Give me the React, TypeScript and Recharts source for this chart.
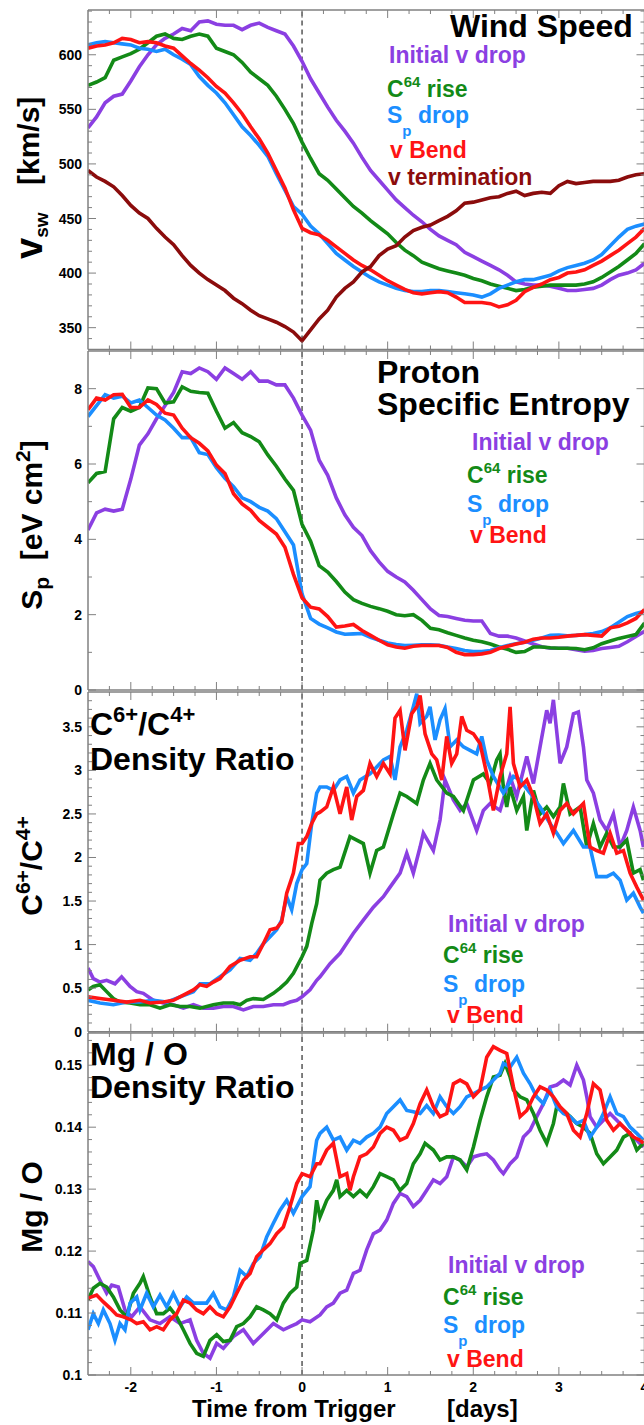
import { LineChart, Line, XAxis, YAxis, ReferenceLine } from "recharts";

// time from trigger (days) for the wind speed and entropy panels
const days = [
  -2.5, -2.4, -2.3, -2.2, -2.1, -2, -1.9, -1.8, -1.7, -1.6, -1.5, -1.4, -1.3, -1.2, -1.1, -1, -0.9, -0.8, -0.7, -0.6,
  -0.5, -0.4, -0.3, -0.2, -0.1, 0, 0.1, 0.2, 0.3, 0.4, 0.5, 0.6, 0.7, 0.8, 0.9, 1, 1.1, 1.2, 1.3, 1.4, 1.5, 1.6, 1.7,
  1.8, 1.9, 2, 2.1, 2.2, 2.3, 2.4, 2.5, 2.6, 2.7, 2.8, 2.9, 3, 3.1, 3.2, 3.3, 3.4, 3.5, 3.6, 3.7, 3.8, 3.9, 4,
];

// wind speed, km/s
const speedInitial = [
  533, 543, 556, 562, 564, 576, 589, 600, 609, 615, 619, 624, 622, 630, 631, 628, 627, 627, 623, 627, 629, 625, 622, 619, 608, 594, 578, 565,
  552, 540, 530, 519, 506, 494, 485, 476, 467, 460, 453, 447, 440, 434, 430, 426, 419, 415, 411, 407, 403, 398, 392, 390, 389, 389, 388, 386,
  384, 384, 385, 386, 389, 394, 398, 400, 403, 409,
];
const speedC64 = [
  572, 575, 579, 595, 598, 601, 605, 611, 617, 619, 615, 614, 617, 619, 617, 606, 603, 600, 593, 584, 578, 572, 562, 550, 537, 520, 505, 491,
  485, 477, 469, 461, 455, 448, 442, 436, 428, 421, 416, 410, 407, 404, 402, 400, 398, 395, 393, 390, 388, 386, 384, 385, 387, 388, 389, 389,
  389, 389, 390, 392, 396, 401, 406, 412, 418, 427,
];
const speedSp = [
  609, 611, 612, 611, 610, 609, 606, 605, 603, 605, 600, 596, 591, 580, 572, 565, 556, 545, 534, 526, 517, 507, 491, 476, 461, 454, 443, 436,
  427, 418, 412, 406, 401, 396, 392, 389, 386, 384, 383, 383, 384, 384, 383, 382, 381, 380, 378, 381, 386, 389, 392, 394, 394, 396, 398, 402,
  405, 407, 409, 412, 417, 425, 433, 440, 443, 445,
];
const speedBend = [
  606, 608, 609, 611, 615, 614, 611, 612, 611, 608, 606, 599, 592, 586, 579, 571, 565, 556, 546, 534, 523, 510, 494, 478, 458, 441, 437, 435,
  430, 424, 418, 412, 407, 403, 398, 393, 389, 385, 382, 381, 382, 383, 382, 378, 373, 373, 373, 372, 369, 371, 375, 383, 387, 390, 394, 396,
  400, 401, 403, 407, 411, 416, 421, 427, 433, 441,
];
const speedTerm = [
  494, 488, 484, 479, 471, 462, 455, 450, 441, 433, 426, 416, 407, 400, 394, 389, 384, 377, 372, 366, 361, 358, 355, 351, 346, 338, 348, 358,
  366, 378, 386, 392, 401, 406, 416, 422, 425, 433, 439, 442, 444, 448, 452, 457, 464, 465, 467, 469, 470, 473, 475, 471, 473, 474, 473, 480,
  484, 482, 483, 484, 484, 484, 485, 488, 490, 491,
];

// proton specific entropy, eV cm^2
const entropyInitial = [
  4.25, 4.7, 4.8, 4.75, 4.8, 5.6, 6.5, 6.8, 7.2, 7.55, 7.9, 8.45, 8.4, 8.55, 8.45, 8.25, 8.55, 8.4, 8.25, 8.45, 8.2, 8.2, 8.1, 8.1, 7.75, 7.3,
  6.9, 6.1, 5.7, 5.1, 4.65, 4.32, 4.1, 3.7, 3.4, 3.15, 3.0, 2.87, 2.65, 2.4, 2.15, 1.98, 1.95, 1.9, 1.85, 1.83, 1.83, 1.5, 1.43, 1.43, 1.38,
  1.3, 1.22, 1.15, 1.11, 1.11, 1.11, 1.07, 1.03, 1.05, 1.1, 1.13, 1.16, 1.28, 1.42, 1.56,
];
const entropyC64 = [
  5.5, 5.75, 5.8, 7.2, 7.5, 7.4, 7.5, 8.02, 8.0, 7.62, 7.65, 8.05, 7.93, 7.9, 7.88, 7.4, 6.95, 7.1, 6.83, 6.73, 6.59, 6.24, 5.94, 5.6, 5.3,
  4.4, 3.95, 3.3, 3.13, 2.88, 2.6, 2.4, 2.3, 2.22, 2.16, 2.09, 2.0, 1.97, 2.0, 1.85, 1.64, 1.6, 1.52, 1.45, 1.38, 1.32, 1.28, 1.22, 1.14, 1.08,
  1.0, 1.02, 1.14, 1.14, 1.12, 1.11, 1.11, 1.1, 1.07, 1.12, 1.23, 1.3, 1.37, 1.42, 1.47, 1.78,
];
const entropySp = [
  7.26, 7.55, 7.84, 7.75, 7.8, 7.62, 7.7, 7.5, 7.3, 7.17, 6.95, 6.7, 6.7, 6.3, 6.25, 5.9, 5.62, 5.4, 5.1, 5.0, 4.85, 4.75, 4.55, 4.2, 3.85,
  2.55, 1.9, 1.75, 1.65, 1.54, 1.48, 1.49, 1.5, 1.4, 1.32, 1.25, 1.21, 1.18, 1.19, 1.2, 1.2, 1.19, 1.14, 1.1, 1.05, 1.02, 1.02, 1.05, 1.12,
  1.18, 1.23, 1.27, 1.32, 1.38, 1.45, 1.46, 1.44, 1.45, 1.47, 1.5, 1.55, 1.65, 1.8, 1.95, 2.03, 2.09,
];
const entropyBend = [
  7.44, 7.75, 7.7, 7.84, 7.85, 7.5, 7.5, 7.7, 7.58, 7.35, 7.3, 6.95, 6.7, 6.55, 6.35, 5.97, 5.75, 5.21, 4.94, 4.77, 4.5, 4.32, 4.14, 3.79,
  3.07, 2.45, 2.2, 2.15, 1.95, 1.67, 1.7, 1.74, 1.58, 1.45, 1.32, 1.2, 1.14, 1.11, 1.16, 1.18, 1.18, 1.18, 1.13, 1.0, 0.94, 0.94, 0.96, 1.0,
  1.1, 1.16, 1.22, 1.27, 1.35, 1.38, 1.38, 1.4, 1.43, 1.45, 1.47, 1.45, 1.43, 1.65, 1.69, 1.78, 1.9, 2.14,
];

// C6+/C4+ density ratio, [day, ratio]
const carbonInitial: [number, number][] = [
  [-2.5, 0.73], [-2.438, 0.61], [-2.36, 0.57], [-2.282, 0.59], [-2.185, 0.55], [-2.107, 0.63], [-2.009, 0.52], [-1.931, 0.46],
  [-1.854, 0.44], [-1.737, 0.36], [-1.62, 0.33], [-1.503, 0.31], [-1.386, 0.27], [-1.269, 0.31], [-1.153, 0.27], [-1.036, 0.27],
  [-0.919, 0.29], [-0.802, 0.29], [-0.685, 0.25], [-0.569, 0.29], [-0.452, 0.29], [-0.335, 0.31], [-0.218, 0.31], [-0.14, 0.34],
  [-0.062, 0.36], [0, 0.4], [0.093, 0.48], [0.171, 0.59], [0.21, 0.63], [0.327, 0.78], [0.444, 0.9], [0.6, 1.13], [0.716, 1.28],
  [0.833, 1.43], [0.95, 1.55], [1.028, 1.66], [1.145, 1.82], [1.223, 2.05], [1.3, 1.82], [1.379, 2.12], [1.417, 2.28], [1.534, 2.08],
  [1.612, 2.43], [1.67, 2.89], [1.768, 2.66], [1.846, 2.54], [1.924, 2.62], [2.04, 2.31], [2.118, 2.54], [2.196, 2.62], [2.313, 2.54],
  [2.43, 2.93], [2.508, 2.7], [2.625, 3.16], [2.703, 2.85], [2.78, 3.27], [2.858, 3.69], [2.897, 3.54], [2.936, 3.81], [3.014, 3.08],
  [3.092, 3.27], [3.17, 3.65], [3.228, 3.67], [3.287, 3.27], [3.326, 2.89], [3.403, 2.74], [3.481, 2.43], [3.559, 2.31], [3.637, 2.5],
  [3.715, 2.12], [3.793, 2.31], [3.87, 2.58], [3.949, 2.31], [3.988, 2.12],
];
const carbonC64: [number, number][] = [
  [-2.5, 0.48], [-2.438, 0.52], [-2.36, 0.54], [-2.282, 0.46], [-2.204, 0.38], [-2.126, 0.34], [-2.009, 0.33], [-1.893, 0.31],
  [-1.776, 0.31], [-1.659, 0.27], [-1.542, 0.31], [-1.425, 0.29], [-1.308, 0.29], [-1.192, 0.27], [-1.036, 0.31], [-0.919, 0.33],
  [-0.802, 0.33], [-0.724, 0.31], [-0.646, 0.36], [-0.569, 0.38], [-0.452, 0.37], [-0.335, 0.44], [-0.257, 0.5], [-0.179, 0.57],
  [-0.101, 0.67], [0, 0.86], [0.055, 0.98], [0.113, 1.24], [0.171, 1.47], [0.21, 1.74], [0.288, 1.82], [0.366, 1.86], [0.444, 1.89],
  [0.56, 2.24], [0.639, 2.2], [0.716, 2.16], [0.794, 1.82], [0.872, 2.08], [0.95, 2.12], [1.067, 2.5], [1.145, 2.74], [1.223, 2.7],
  [1.34, 2.62], [1.417, 2.89], [1.495, 3.08], [1.573, 2.89], [1.69, 2.74], [1.768, 2.7], [1.885, 2.54], [2.002, 2.89], [2.118, 2.96],
  [2.196, 2.85], [2.274, 3.12], [2.313, 3.19], [2.352, 2.81], [2.391, 2.58], [2.43, 2.81], [2.508, 2.54], [2.586, 2.7], [2.625, 2.31],
  [2.703, 2.77], [2.78, 2.5], [2.858, 2.58], [2.936, 2.47], [3.014, 2.58], [3.053, 2.85], [3.131, 2.5], [3.248, 2.58], [3.326, 2.12],
  [3.403, 2.39], [3.481, 2.12], [3.559, 2.28], [3.637, 2.12], [3.715, 2.12], [3.793, 2.2], [3.87, 1.82], [3.949, 1.86], [3.988, 1.74],
];
const carbonSp: [number, number][] = [
  [-2.5, 0.36], [-2.36, 0.33], [-2.204, 0.31], [-2.048, 0.34], [-1.893, 0.34], [-1.737, 0.36], [-1.581, 0.34], [-1.425, 0.4],
  [-1.269, 0.46], [-1.192, 0.55], [-1.075, 0.55], [-0.958, 0.63], [-0.841, 0.71], [-0.724, 0.84], [-0.607, 0.82], [-0.53, 0.9],
  [-0.452, 1.01], [-0.374, 1.09], [-0.296, 1.17], [-0.238, 1.28], [-0.179, 1.55], [-0.121, 1.4], [-0.062, 1.7], [0, 1.86],
  [0.055, 1.93], [0.113, 2.39], [0.171, 2.74], [0.21, 2.81], [0.288, 2.81], [0.366, 2.77], [0.444, 2.89], [0.522, 2.93], [0.6, 2.74],
  [0.677, 2.89], [0.794, 2.96], [0.872, 3.04], [0.95, 3.12], [1.028, 3.16], [1.086, 2.89], [1.145, 3.27], [1.223, 3.46], [1.3, 3.73],
  [1.34, 3.88], [1.379, 3.54], [1.456, 3.62], [1.495, 3.73], [1.554, 3.35], [1.612, 3.58], [1.67, 3.71], [1.729, 3.27], [1.807, 3.35],
  [1.885, 3.27], [1.963, 3.23], [2.04, 3.19], [2.099, 3.39], [2.157, 3.12], [2.235, 2.93], [2.352, 2.74], [2.469, 2.93], [2.547, 2.89],
  [2.664, 2.74], [2.78, 2.58], [2.897, 2.39], [2.975, 2.28], [3.053, 2.16], [3.17, 2.31], [3.287, 2.12], [3.364, 2.12], [3.442, 1.78],
  [3.559, 1.78], [3.637, 1.82], [3.715, 1.74], [3.793, 1.51], [3.87, 1.59], [3.949, 1.43], [3.988, 1.36],
];
const carbonBend: [number, number][] = [
  [-2.5, 0.4], [-2.36, 0.38], [-2.204, 0.36], [-2.048, 0.34], [-1.893, 0.36], [-1.776, 0.33], [-1.62, 0.34], [-1.503, 0.36],
  [-1.386, 0.42], [-1.269, 0.48], [-1.192, 0.54], [-1.114, 0.52], [-1.036, 0.57], [-0.958, 0.61], [-0.841, 0.75], [-0.724, 0.82],
  [-0.607, 0.86], [-0.53, 0.86], [-0.452, 1.01], [-0.374, 1.17], [-0.296, 1.19], [-0.238, 1.26], [-0.179, 1.59], [-0.101, 1.82],
  [-0.043, 2.16], [0, 2.16], [0.055, 2.24], [0.113, 2.39], [0.171, 2.5], [0.21, 2.52], [0.288, 2.58], [0.366, 2.81], [0.444, 2.5],
  [0.522, 2.81], [0.58, 2.43], [0.639, 2.7], [0.716, 2.77], [0.794, 3.08], [0.872, 2.93], [0.95, 3.08], [1.028, 2.96], [1.086, 3.6],
  [1.145, 3.69], [1.203, 3.23], [1.281, 3.65], [1.34, 3.73], [1.379, 3.86], [1.437, 3.42], [1.515, 3.19], [1.573, 3.12], [1.632, 2.89],
  [1.69, 3.39], [1.748, 3.08], [1.807, 3.19], [1.865, 3.62], [1.924, 3.46], [2.002, 3.42], [2.079, 3.31], [2.157, 2.96], [2.235, 2.54],
  [2.313, 2.93], [2.391, 3.19], [2.43, 3.73], [2.469, 3.08], [2.547, 2.81], [2.625, 2.89], [2.703, 2.7], [2.78, 2.39], [2.858, 2.5],
  [2.936, 2.28], [3.014, 2.54], [3.092, 2.62], [3.17, 2.5], [3.287, 2.62], [3.364, 2.12], [3.442, 2.08], [3.52, 2.05], [3.598, 2.28],
  [3.676, 2.05], [3.754, 2.08], [3.832, 1.82], [3.91, 1.66], [3.988, 1.51],
];

// Mg/O density ratio, [day, ratio]
const mgInitial: [number, number][] = [
  [-2.5, 0.1183], [-2.438, 0.1175], [-2.36, 0.1153], [-2.282, 0.1132], [-2.223, 0.1145], [-2.146, 0.1142], [-2.068, 0.1105],
  [-1.99, 0.1094], [-1.893, 0.111], [-1.776, 0.1089], [-1.659, 0.1083], [-1.542, 0.1094], [-1.425, 0.1083], [-1.308, 0.1089],
  [-1.231, 0.1056], [-1.153, 0.1035], [-1.075, 0.1027], [-0.997, 0.1051], [-0.919, 0.1043], [-0.802, 0.1062], [-0.685, 0.1073],
  [-0.569, 0.1051], [-0.452, 0.1067], [-0.335, 0.1083], [-0.218, 0.1073], [-0.14, 0.1078], [-0.062, 0.1083], [0, 0.1089],
  [0.093, 0.1086], [0.21, 0.1097], [0.288, 0.111], [0.366, 0.1116], [0.444, 0.1132], [0.522, 0.1137], [0.6, 0.1164], [0.677, 0.1169],
  [0.755, 0.1202], [0.833, 0.1228], [0.911, 0.1234], [0.989, 0.125], [1.067, 0.1277], [1.145, 0.1293], [1.223, 0.1288], [1.3, 0.1272],
  [1.379, 0.1282], [1.456, 0.1298], [1.534, 0.1315], [1.612, 0.1309], [1.69, 0.132], [1.768, 0.1352], [1.846, 0.1347], [1.924, 0.1336],
  [2.002, 0.1352], [2.079, 0.1355], [2.157, 0.1357], [2.235, 0.1347], [2.313, 0.1331], [2.352, 0.1325], [2.43, 0.1341], [2.508, 0.1352],
  [2.586, 0.1384], [2.664, 0.1395], [2.741, 0.1417], [2.819, 0.1438], [2.897, 0.1465], [2.975, 0.1468], [3.053, 0.1476], [3.131, 0.1468],
  [3.209, 0.15], [3.287, 0.1476], [3.326, 0.1449], [3.364, 0.1417], [3.442, 0.14], [3.52, 0.1411], [3.598, 0.1422], [3.676, 0.1411],
  [3.754, 0.14], [3.832, 0.139], [3.91, 0.1379], [3.988, 0.1368],
];
const mgC64: [number, number][] = [
  [-2.5, 0.1121], [-2.438, 0.114], [-2.36, 0.1148], [-2.282, 0.1142], [-2.204, 0.1126], [-2.126, 0.1105], [-2.048, 0.1094],
  [-1.97, 0.1132], [-1.893, 0.1148], [-1.854, 0.1159], [-1.776, 0.1126], [-1.698, 0.1099], [-1.62, 0.1099], [-1.542, 0.1108],
  [-1.464, 0.1094], [-1.386, 0.1073], [-1.308, 0.1051], [-1.231, 0.1035], [-1.153, 0.103], [-1.075, 0.1056], [-0.997, 0.1065],
  [-0.919, 0.1054], [-0.841, 0.1056], [-0.763, 0.1078], [-0.685, 0.1083], [-0.607, 0.1094], [-0.53, 0.111], [-0.452, 0.1105],
  [-0.374, 0.1099], [-0.296, 0.1089], [-0.218, 0.1116], [-0.14, 0.1132], [-0.062, 0.1142], [-0.023, 0.118], [0.055, 0.1185],
  [0.132, 0.1234], [0.171, 0.1282], [0.21, 0.1255], [0.288, 0.1282], [0.366, 0.1298], [0.405, 0.1315], [0.444, 0.1288], [0.522, 0.1298],
  [0.6, 0.1288], [0.677, 0.1298], [0.755, 0.1288], [0.833, 0.1304], [0.911, 0.1325], [0.989, 0.132], [1.067, 0.1315], [1.145, 0.1298],
  [1.223, 0.1309], [1.3, 0.1341], [1.379, 0.1357], [1.437, 0.1374], [1.534, 0.1363], [1.612, 0.1347], [1.69, 0.1352], [1.768, 0.1352],
  [1.846, 0.1347], [1.924, 0.1331], [2.002, 0.1368], [2.079, 0.1411], [2.157, 0.1449], [2.235, 0.1481], [2.313, 0.1484], [2.371, 0.1503],
  [2.43, 0.1481], [2.469, 0.146], [2.547, 0.1449], [2.625, 0.1444], [2.703, 0.1422], [2.78, 0.1395], [2.858, 0.1374], [2.936, 0.1406],
  [2.975, 0.1433], [3.053, 0.1427], [3.131, 0.1417], [3.209, 0.1406], [3.287, 0.14], [3.364, 0.139], [3.442, 0.1357], [3.52, 0.1341],
  [3.598, 0.1352], [3.676, 0.1363], [3.754, 0.1384], [3.832, 0.139], [3.91, 0.1363], [3.988, 0.1374],
];
const mgSp: [number, number][] = [
  [-2.5, 0.1073], [-2.438, 0.1099], [-2.379, 0.1083], [-2.321, 0.1105], [-2.243, 0.1083], [-2.185, 0.1056], [-2.126, 0.1083],
  [-2.068, 0.1073], [-2.009, 0.1116], [-1.931, 0.1126], [-1.893, 0.1105], [-1.815, 0.1132], [-1.737, 0.111], [-1.659, 0.1129],
  [-1.581, 0.111], [-1.503, 0.1132], [-1.425, 0.111], [-1.347, 0.1126], [-1.269, 0.1116], [-1.192, 0.1116], [-1.114, 0.1116],
  [-1.036, 0.1132], [-0.958, 0.111], [-0.88, 0.1105], [-0.802, 0.1126], [-0.724, 0.1169], [-0.646, 0.1159], [-0.569, 0.118],
  [-0.491, 0.1191], [-0.413, 0.1223], [-0.335, 0.1245], [-0.257, 0.1266], [-0.179, 0.1282], [-0.101, 0.1261], [0, 0.1288],
  [0.093, 0.1304], [0.171, 0.1379], [0.21, 0.139], [0.288, 0.14], [0.366, 0.1379], [0.444, 0.1384], [0.522, 0.1363], [0.6, 0.1379],
  [0.677, 0.1374], [0.755, 0.1384], [0.833, 0.139], [0.911, 0.14], [0.989, 0.1422], [1.067, 0.1433], [1.145, 0.1444], [1.223, 0.1427],
  [1.3, 0.1425], [1.379, 0.1422], [1.456, 0.1435], [1.534, 0.1422], [1.612, 0.1449], [1.69, 0.1433], [1.768, 0.1422], [1.846, 0.1433],
  [1.924, 0.1449], [2.002, 0.1454], [2.079, 0.146], [2.157, 0.1465], [2.235, 0.1476], [2.313, 0.1487], [2.352, 0.1503], [2.43, 0.1497],
  [2.508, 0.1513], [2.586, 0.1487], [2.664, 0.147], [2.741, 0.1449], [2.819, 0.1438], [2.897, 0.146], [2.975, 0.1433], [3.053, 0.1422],
  [3.131, 0.1417], [3.209, 0.1406], [3.287, 0.1411], [3.364, 0.1384], [3.442, 0.14], [3.52, 0.1422], [3.598, 0.1449], [3.676, 0.1422],
  [3.754, 0.1417], [3.832, 0.14], [3.91, 0.139], [3.988, 0.1379],
];
const mgBend: [number, number][] = [
  [-2.5, 0.1124], [-2.399, 0.1129], [-2.321, 0.1118], [-2.243, 0.1108], [-2.165, 0.1097], [-2.087, 0.1094], [-1.998, 0.1089],
  [-1.931, 0.1083], [-1.854, 0.1086], [-1.776, 0.1073], [-1.698, 0.1078], [-1.62, 0.1073], [-1.542, 0.1089], [-1.464, 0.1099],
  [-1.386, 0.1121], [-1.308, 0.1116], [-1.231, 0.1105], [-1.153, 0.1099], [-1.075, 0.111], [-0.997, 0.1099], [-0.919, 0.1094],
  [-0.841, 0.111], [-0.763, 0.1132], [-0.685, 0.1153], [-0.607, 0.1164], [-0.53, 0.1191], [-0.452, 0.1202], [-0.374, 0.1212],
  [-0.296, 0.1228], [-0.218, 0.1239], [-0.14, 0.1272], [-0.062, 0.1309], [0, 0.1325], [0.093, 0.132], [0.171, 0.1341], [0.21, 0.1341],
  [0.288, 0.1363], [0.366, 0.1374], [0.444, 0.132], [0.522, 0.1325], [0.56, 0.1298], [0.6, 0.132], [0.677, 0.1352], [0.755, 0.1357],
  [0.833, 0.1368], [0.911, 0.139], [0.989, 0.14], [1.067, 0.1395], [1.145, 0.1379], [1.223, 0.1384], [1.3, 0.1406], [1.379, 0.1438],
  [1.456, 0.146], [1.534, 0.1433], [1.612, 0.1417], [1.69, 0.1422], [1.768, 0.147], [1.846, 0.1476], [1.924, 0.147], [2.002, 0.1449],
  [2.079, 0.146], [2.157, 0.1513], [2.235, 0.153], [2.313, 0.1524], [2.391, 0.1519], [2.469, 0.1465], [2.547, 0.1417], [2.625, 0.1427],
  [2.703, 0.1449], [2.78, 0.1465], [2.858, 0.146], [2.936, 0.1449], [3.014, 0.1433], [3.092, 0.1422], [3.17, 0.1395], [3.248, 0.1384],
  [3.326, 0.1422], [3.403, 0.147], [3.481, 0.146], [3.559, 0.1411], [3.637, 0.1395], [3.715, 0.1406], [3.793, 0.1395], [3.87, 0.1384],
  [3.949, 0.1379], [3.988, 0.1374],
];

// axis tick labels
const xMajor = [-2, -1, 0, 1, 2, 3, 4];
const speedMajor = [350, 400, 450, 500, 550, 600];
const entropyMajor = [0, 2, 4, 6, 8];
const carbonMajor = [0, 0.5, 1, 1.5, 2, 2.5, 3, 3.5];
const mgMajor = [0.1, 0.11, 0.12, 0.13, 0.14, 0.15];

const FONT = '"Liberation Sans", Arial, Helvetica, sans-serif';
const AXIS = "#808080";
const PURPLE = "#8b3fe2";
const GREEN = "#138a17";
const BLUE = "#1b8eff";
const RED = "#ff1414";
const DARKRED = "#8b0c0c";

const CHART_W = 660;
const PLOT_LEFT = 88;
const PLOT_RIGHT = 644.5;
const X_DOMAIN: [number, number] = [-2.5, 4];

const round = (v: number) => Math.round(v * 10000) / 10000;
const steps = (from: number, to: number, step: number) => {
  const out: number[] = [];
  for (let v = from; v <= to + step / 100; v += step) out.push(round(v));
  return out;
};
const isMajor = (v: number, majors: number[]) => majors.some((m) => Math.abs(m - v) < 1e-7);

const xTicks = steps(-2.25, 4, 0.25);

const bottomTick = (labels: boolean) => (p: any) => {
  const v = p.payload.value;
  const major = isMajor(v, xMajor);
  return (
    <g>
      <line x1={p.x} x2={p.x} y1={p.y} y2={p.y - (major ? 8 : 4)} stroke={AXIS} strokeWidth={1} />
      {labels && major && (
        <text x={p.x} y={p.y + 17} textAnchor="middle" fontSize={14} fontWeight="bold" fontFamily={FONT} fill="#000">
          {String(round(v))}
        </text>
      )}
    </g>
  );
};

const topTick = (p: any) => {
  const major = isMajor(p.payload.value, xMajor);
  return <line x1={p.x} x2={p.x} y1={p.y} y2={p.y + (major ? 8 : 4)} stroke={AXIS} strokeWidth={1} />;
};

const leftTick = (majors: number[]) => (p: any) => {
  const v = p.payload.value;
  const major = isMajor(v, majors);
  return (
    <g>
      <line x1={p.x} x2={p.x + (major ? 8 : 4)} y1={p.y} y2={p.y} stroke={AXIS} strokeWidth={1} />
      {major && (
        <text x={p.x - 6} y={p.y + 5} textAnchor="end" fontSize={14} fontWeight="bold" fontFamily={FONT} fill="#000">
          {String(round(v))}
        </text>
      )}
    </g>
  );
};

const rightTick = (majors: number[]) => (p: any) => {
  const major = isMajor(p.payload.value, majors);
  return <line x1={p.x} x2={p.x - (major ? 8 : 4)} y1={p.y} y2={p.y} stroke={AXIS} strokeWidth={1} />;
};

type Point = { t: number; v: number };
type Series = { name: string; color: string; data: Point[] };

const onGrid = (values: number[]): Point[] => days.map((t, i) => ({ t, v: values[i] }));
const fromPairs = (pairs: [number, number][]): Point[] => pairs.map(([t, v]) => ({ t, v }));

const speedSeries: Series[] = [
  { name: "initial", color: PURPLE, data: onGrid(speedInitial) },
  { name: "c64", color: GREEN, data: onGrid(speedC64) },
  { name: "sp", color: BLUE, data: onGrid(speedSp) },
  { name: "bend", color: RED, data: onGrid(speedBend) },
  { name: "term", color: DARKRED, data: onGrid(speedTerm) },
];
const entropySeries: Series[] = [
  { name: "initial", color: PURPLE, data: onGrid(entropyInitial) },
  { name: "c64", color: GREEN, data: onGrid(entropyC64) },
  { name: "sp", color: BLUE, data: onGrid(entropySp) },
  { name: "bend", color: RED, data: onGrid(entropyBend) },
];
const carbonSeries: Series[] = [
  { name: "initial", color: PURPLE, data: fromPairs(carbonInitial) },
  { name: "c64", color: GREEN, data: fromPairs(carbonC64) },
  { name: "sp", color: BLUE, data: fromPairs(carbonSp) },
  { name: "bend", color: RED, data: fromPairs(carbonBend) },
];
const mgSeries: Series[] = [
  { name: "initial", color: PURPLE, data: fromPairs(mgInitial) },
  { name: "c64", color: GREEN, data: fromPairs(mgC64) },
  { name: "sp", color: BLUE, data: fromPairs(mgSp) },
  { name: "bend", color: RED, data: fromPairs(mgBend) },
];

type PanelProps = {
  top: number;
  plotHeight: number;
  domain: [number, number];
  yTicks: number[];
  yMajors: number[];
  series: Series[];
  xLabels?: boolean;
};

// one stacked panel; axes are 1px thick so recharts still draws them, the margins absorb that pixel
function Panel({ top, plotHeight, domain, yTicks, yMajors, series, xLabels = false }: PanelProps) {
  const pad = 10;
  const bottom = xLabels ? 30 : pad;
  const axisLine = { stroke: AXIS, strokeWidth: 1.5 };
  return (
    <div style={{ position: "absolute", left: 0, top: top - pad }}>
      <LineChart
        width={CHART_W}
        height={plotHeight + pad + bottom}
        margin={{ top: pad - 1, right: CHART_W - PLOT_RIGHT - 1, bottom: bottom - 1, left: 0 }}
      >
        <XAxis
          dataKey="t"
          type="number"
          domain={X_DOMAIN}
          ticks={xTicks}
          interval={0}
          height={1}
          tickSize={0}
          tickMargin={0}
          tickLine={false}
          axisLine={axisLine}
          tick={bottomTick(xLabels)}
          allowDataOverflow
        />
        <XAxis
          xAxisId="top"
          orientation="top"
          dataKey="t"
          type="number"
          domain={X_DOMAIN}
          ticks={xTicks}
          interval={0}
          height={1}
          tickSize={0}
          tickMargin={0}
          tickLine={false}
          axisLine={axisLine}
          tick={topTick}
          allowDataOverflow
        />
        <YAxis
          type="number"
          domain={domain}
          ticks={yTicks}
          interval={0}
          width={PLOT_LEFT}
          tickSize={0}
          tickMargin={0}
          tickLine={false}
          axisLine={axisLine}
          tick={leftTick(yMajors)}
          allowDataOverflow
        />
        <YAxis
          yAxisId="right"
          orientation="right"
          type="number"
          domain={domain}
          ticks={yTicks}
          interval={0}
          width={1}
          tickSize={0}
          tickMargin={0}
          tickLine={false}
          axisLine={axisLine}
          tick={rightTick(yMajors)}
          allowDataOverflow
        />
        <ReferenceLine x={0} stroke="#000" strokeWidth={1} strokeDasharray="5 4" />
        {series.map((s) => (
          <Line
            key={s.name}
            data={s.data}
            type="linear"
            dataKey="v"
            stroke={s.color}
            strokeWidth={3.6}
            dot={false}
            activeDot={false}
            isAnimationActive={false}
          />
        ))}
      </LineChart>
    </div>
  );
}

// legend block: baselines for the four/five entries
function Legend({ rows, withTerm = false }: { rows: [number, number][]; withTerm?: boolean }) {
  const [a, b, c, d, e] = rows;
  return (
    <g fontSize={23} fontWeight="bold" fontFamily={FONT}>
      <text x={a[0]} y={a[1]} fill={PURPLE}>
        Initial v drop
      </text>
      <text x={b[0]} y={b[1]} fill={GREEN}>
        C
        <tspan fontSize={15} dy={-10}>
          64
        </tspan>
        <tspan dy={10}>{"\u00a0rise"}</tspan>
      </text>
      <text x={c[0]} y={c[1]} fill={BLUE}>
        S
        <tspan fontSize={15} dy={13}>
          p
        </tspan>
        <tspan dy={-13}>{"\u00a0drop"}</tspan>
      </text>
      <text x={d[0]} y={d[1]} fill={RED}>
        {"v\u00a0Bend"}
      </text>
      {withTerm && e && (
        <text x={e[0]} y={e[1]} fill={DARKRED}>
          v termination
        </text>
      )}
    </g>
  );
}

export default function App() {
  return (
    <div
      style={{
        position: "absolute",
        left: 0,
        top: 0,
        width: 644,
        height: 1425,
        overflow: "hidden",
        background: "#fff",
        fontFamily: FONT,
      }}
    >
      <Panel
        top={10}
        plotHeight={339.5}
        domain={[330, 641]}
        yTicks={steps(340, 640, 10)}
        yMajors={speedMajor}
        series={speedSeries}
      />
      <Panel top={351} plotHeight={339} domain={[0, 9]} yTicks={steps(0, 8, 1)} yMajors={entropyMajor} series={entropySeries} />
      <Panel
        top={692}
        plotHeight={339.7}
        domain={[0, 3.9]}
        yTicks={steps(0, 3.8, 0.1)}
        yMajors={carbonMajor}
        series={carbonSeries}
      />
      <Panel
        top={1033}
        plotHeight={342}
        domain={[0.1, 0.1552]}
        yTicks={steps(0.1, 0.154, 0.002)}
        yMajors={mgMajor}
        series={mgSeries}
        xLabels
      />

      <svg
        width={644}
        height={1425}
        style={{ position: "absolute", left: 0, top: 0, pointerEvents: "none" }}
        fontFamily={FONT}
        fontWeight="bold"
      >
        {/* rotated y-axis titles */}
        <text transform="translate(42,259) rotate(-90)" fill="#000">
          <tspan fontSize={38}>v</tspan>
          <tspan fontSize={19} dy={6}>
            sw
          </tspan>
          <tspan fontSize={30} x={74} dy={-9}>
            [km/s]
          </tspan>
        </text>
        <text transform="translate(42,525) rotate(-90)" textAnchor="middle" fontSize={30} fill="#000">
          S
          <tspan fontSize={21} dy={7}>
            p
          </tspan>
          <tspan dy={-7}>{"\u00a0\u00a0[eV cm"}</tspan>
          <tspan fontSize={21} dy={-12}>
            2
          </tspan>
          <tspan dy={12}>]</tspan>
        </text>
        <text transform="translate(42,866) rotate(-90)" textAnchor="middle" fontSize={30} fill="#000">
          C
          <tspan fontSize={21} dy={-12}>
            6+
          </tspan>
          <tspan dy={12}>/C</tspan>
          <tspan fontSize={21} dy={-12}>
            4+
          </tspan>
        </text>
        <text transform="translate(42,1207) rotate(-90)" textAnchor="middle" fontSize={30} fill="#000">
          Mg / O
        </text>

        {/* panel titles */}
        <g fontSize={32} fill="#000">
          <text x={450} y={37}>
            Wind Speed
          </text>
          <text x={377} y={383}>
            Proton
          </text>
          <text x={377} y={415}>
            Specific Entropy
          </text>
          <text x={90} y={735}>
            C
            <tspan fontSize={22} dy={-13}>
              6+
            </tspan>
            <tspan dy={13}>/C</tspan>
            <tspan fontSize={22} dy={-13}>
              4+
            </tspan>
          </text>
          <text x={90} y={770}>
            Density Ratio
          </text>
          <text x={90} y={1065}>
            Mg / O
          </text>
          <text x={90} y={1098}>
            Density Ratio
          </text>
        </g>

        <Legend rows={[[389, 63], [387, 97], [387, 123], [390, 158], [388, 185]]} withTerm />
        <Legend rows={[[472, 450], [467, 483], [467, 512], [470, 543]]} />
        <Legend rows={[[448, 932], [443, 963], [443, 992], [447, 1023]]} />
        <Legend rows={[[448, 1273], [443, 1305], [443, 1333], [447, 1367]]} />

        {/* x-axis title */}
        <text x={192} y={1417} fontSize={24} fill="#000">
          Time from Trigger
        </text>
        <text x={447} y={1417} fontSize={24} fill="#000">
          [days]
        </text>
      </svg>
    </div>
  );
}
